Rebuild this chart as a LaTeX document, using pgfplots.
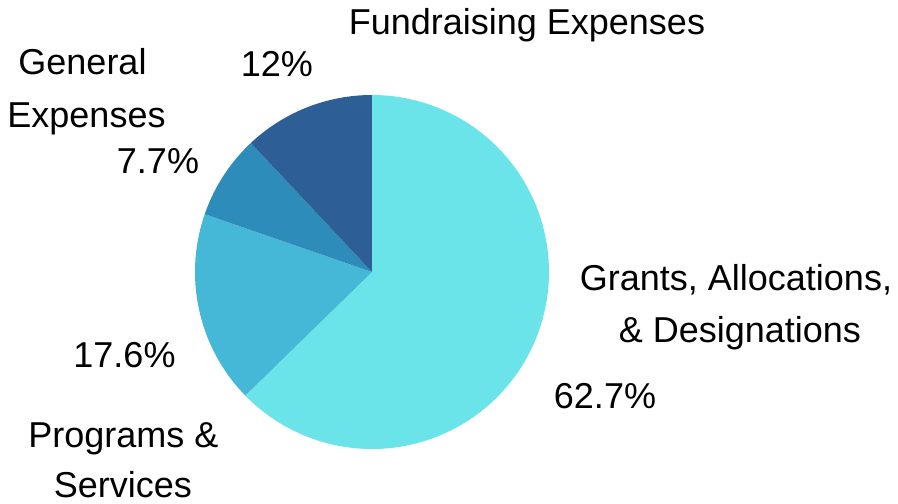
\documentclass[border=0pt]{standalone}
\usepackage{pgfplots}
\pgfplotsset{compat=1.18}
\usepgfplotslibrary{polar}
\usepackage{fontspec}
\setmainfont{Liberation Sans}

\definecolor{cGrants}{HTML}{6AE4E8}
\definecolor{cProg}{HTML}{44B8D6}
\definecolor{cGen}{HTML}{2E8CBB}
\definecolor{cFund}{HTML}{2D5E96}

% shares in percent, clockwise from 12 o'clock
\def\pGrants{62.7}
\def\pProg{17.6}
\def\pGen{7.7}
\def\pFund{12}

\tikzset{lbl/.style={font=\fontsize{36bp}{42bp}\selectfont, anchor=base, inner sep=0pt}}

\begin{document}
\begin{tikzpicture}
\useasboundingbox (-372bp,-232bp) rectangle (526bp,272bp);
\pgfmathsetmacro\aA{90}
\pgfmathsetmacro\aB{\aA-3.6*\pGrants}
\pgfmathsetmacro\aC{\aB-3.6*\pProg}
\pgfmathsetmacro\aD{\aC-3.6*\pGen}
\pgfmathsetmacro\aE{\aD-3.6*\pFund}
\begin{polaraxis}[
  at={(0,0)}, anchor=origin,
  scale only axis, width=354bp, height=354bp,
  ymin=0, ymax=1,
  hide axis,
  clip=false,
]
\addplot[draw=none, fill=cGrants, domain=\aB:\aA, samples=200] {1} -- (axis cs:0,0) -- cycle;
\addplot[draw=none, fill=cProg, domain=\aC:\aB, samples=80] {1} -- (axis cs:0,0) -- cycle;
\addplot[draw=none, fill=cGen, domain=\aD:\aC, samples=40] {1} -- (axis cs:0,0) -- cycle;
\addplot[draw=none, fill=cFund, domain=\aE:\aD, samples=60] {1} -- (axis cs:0,0) -- cycle;

\node[lbl] at (axis cs:0,0) [xshift=155bp, yshift=237bp] {Fundraising Expenses};
\node[lbl] at (axis cs:0,0) [xshift=-95bp, yshift=196bp] {12\%};
\node[lbl] at (axis cs:0,0) [xshift=-289.5bp, yshift=197bp] {General};
\node[lbl] at (axis cs:0,0) [xshift=-285.5bp, yshift=145bp] {Expenses};
\node[lbl] at (axis cs:0,0) [xshift=-214bp, yshift=99bp] {7.7\%};
\node[lbl] at (axis cs:0,0) [xshift=364bp, yshift=-18bp] {Grants, Allocations,};
\node[lbl] at (axis cs:0,0) [xshift=368bp, yshift=-70bp] {\& Designations};
\node[lbl] at (axis cs:0,0) [xshift=233bp, yshift=-136bp] {62.7\%};
\node[lbl] at (axis cs:0,0) [xshift=-247.5bp, yshift=-95bp] {17.6\%};
\node[lbl] at (axis cs:0,0) [xshift=-248.5bp, yshift=-175bp] {Programs \&};
\node[lbl] at (axis cs:0,0) [xshift=-249bp, yshift=-225bp] {Services};
\end{polaraxis}
\end{tikzpicture}
\end{document}
